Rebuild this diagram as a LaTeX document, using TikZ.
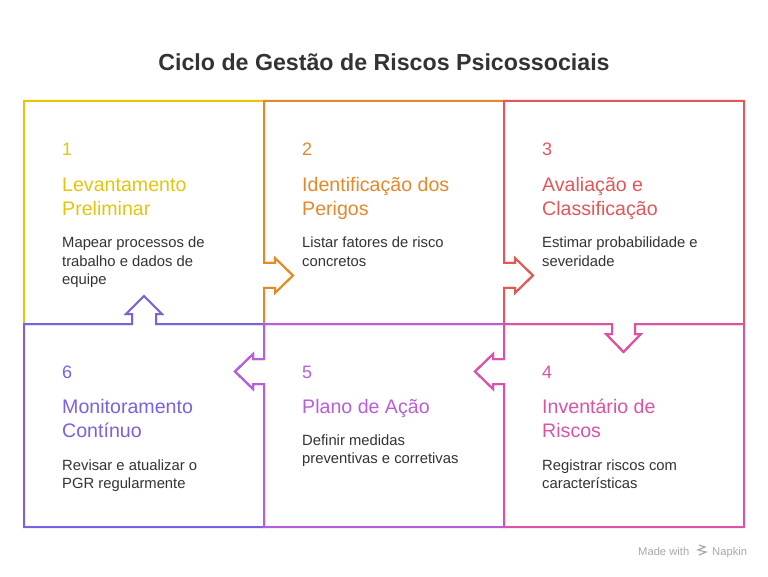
\documentclass[tikz,border=0pt]{standalone}
\usepackage{fontspec}
\setmainfont{Liberation Sans}
\definecolor{cyel}{HTML}{E3C60C}
\definecolor{cora}{HTML}{E4882C}
\definecolor{cred}{HTML}{E4565A}
\definecolor{cpink}{HTML}{DC52A4}
\definecolor{cpur}{HTML}{BA5CE0}
\definecolor{cvio}{HTML}{7B60E4}
\definecolor{ctxt}{HTML}{333333}
\definecolor{cgray}{HTML}{A8A8A8}
\begin{document}
\begin{tikzpicture}[x=1pt,y=-1pt,
  boxline/.style={line width=2pt,line join=miter},
  numtxt/.style={anchor=base west,inner sep=0pt,font=\fontsize{18}{18}\selectfont},
  headtxt/.style={anchor=base west,inner sep=0pt,font=\fontsize{19.6}{19.6}\selectfont},
  bodytxt/.style={anchor=base west,inner sep=0pt,text=ctxt,font=\fontsize{14.8}{14.8}\selectfont}]
\useasboundingbox (0,0) rectangle (768,577);
\fill[white] (0,0) rectangle (768,577);
% title
\node[anchor=base,inner sep=0pt,text=ctxt,font=\fontsize{23.2}{23.2}\selectfont\bfseries] (title) at (384,70.5) {Ciclo de Gestão de Riscos Psicossociais};
% boxes (drawing order 1,2,3,6,5,4)
\draw[boxline,cyel] (24,101) -- (264,101) -- (264,263) -- (275,263) -- (275,258) -- (293,275.5) -- (275,293) -- (275,288) -- (264,288) -- (264,324)
  -- (156,324) -- (156,314) -- (162,314) -- (144,296) -- (126,314) -- (132,314) -- (132,324) -- (24,324) -- cycle;
\draw[boxline,cora] (264,101) -- (504,101) -- (504,263) -- (515,263) -- (515,258) -- (533,275.5) -- (515,293) -- (515,288) -- (504,288) -- (504,324)
  -- (264,324) -- (264,288) -- (275,288) -- (275,293) -- (293,275.5) -- (275,258) -- (275,263) -- (264,263) -- cycle;
\draw[boxline,cred] (504,101) -- (744,101) -- (744,324) -- (635,324) -- (635,334) -- (641,334) -- (623.5,352) -- (606,334) -- (612,334) -- (612,324)
  -- (504,324) -- (504,288) -- (515,288) -- (515,293) -- (533,275.5) -- (515,258) -- (515,263) -- (504,263) -- cycle;
\draw[boxline,cvio] (24,324) -- (132,324) -- (132,314) -- (126,314) -- (144,296) -- (162,314) -- (156,314) -- (156,324) -- (264,324)
  -- (264,359) -- (253,359) -- (253,354) -- (235,371.5) -- (253,389) -- (253,384) -- (264,384) -- (264,527) -- (24,527) -- cycle;
\draw[boxline,cpur] (264,324) -- (504,324) -- (504,359) -- (493,359) -- (493,354) -- (475,371.5) -- (493,389) -- (493,384) -- (504,384) -- (504,527)
  -- (264,527) -- (264,384) -- (253,384) -- (253,389) -- (235,371.5) -- (253,354) -- (253,359) -- (264,359) -- cycle;
\draw[boxline,cpink] (504,324) -- (612,324) -- (612,334) -- (606,334) -- (623.5,352) -- (641,334) -- (635,334) -- (635,324) -- (744,324)
  -- (744,527) -- (504,527) -- (504,384) -- (493,384) -- (493,389) -- (475,371.5) -- (493,354) -- (493,359) -- (504,359) -- cycle;
% box 1
\node[numtxt,text=cyel] (n1) at (62,156) {1};
\node[headtxt,text=cyel] (h1a) at (62,191.5) {Levantamento};
\node[headtxt,text=cyel] (h1b) at (62,215.5) {Preliminar};
\node[bodytxt] (b1a) at (62,248) {Mapear processos de};
\node[bodytxt] (b1b) at (62,266) {trabalho e dados de};
\node[bodytxt] (b1c) at (62,284) {equipe};
% box 2
\node[numtxt,text=cora] (n2) at (302,156) {2};
\node[headtxt,text=cora] (h2a) at (302,191.5) {Identificação dos};
\node[headtxt,text=cora] (h2b) at (302,215.5) {Perigos};
\node[bodytxt] (b2a) at (302,248) {Listar fatores de risco};
\node[bodytxt] (b2b) at (302,266) {concretos};
% box 3
\node[numtxt,text=cred] (n3) at (542,156) {3};
\node[headtxt,text=cred] (h3a) at (542,191.5) {Avaliação e};
\node[headtxt,text=cred] (h3b) at (542,215.5) {Classificação};
\node[bodytxt] (b3a) at (542,248) {Estimar probabilidade e};
\node[bodytxt] (b3b) at (542,266) {severidade};
% box 4
\node[numtxt,text=cpink] (n4) at (542,378) {4};
\node[headtxt,text=cpink] (h4a) at (542,413.5) {Inventário de};
\node[headtxt,text=cpink] (h4b) at (542,437.5) {Riscos};
\node[bodytxt] (b4a) at (542,470) {Registrar riscos com};
\node[bodytxt] (b4b) at (542,488) {características};
% box 5
\node[numtxt,text=cpur] (n5) at (302,378) {5};
\node[headtxt,text=cpur] (h5a) at (302,413.5) {Plano de Ação};
\node[bodytxt] (b5a) at (302,445) {Definir medidas};
\node[bodytxt] (b5b) at (302,463) {preventivas e corretivas};
% box 6
\node[numtxt,text=cvio] (n6) at (62,378) {6};
\node[headtxt,text=cvio] (h6a) at (62,413.5) {Monitoramento};
\node[headtxt,text=cvio] (h6b) at (62,437.5) {Contínuo};
\node[bodytxt] (b6a) at (62,470) {Revisar e atualizar o};
\node[bodytxt] (b6b) at (62,488) {PGR regularmente};
% footer
\node[anchor=base west,inner sep=0pt,text=cgray,font=\fontsize{11.2}{11.2}\selectfont] (madew) at (638,555) {Made with};
\node[anchor=base west,inner sep=0pt,text=cgray,font=\fontsize{11.2}{11.2}\selectfont] (napk) at (712,555) {Napkin};
\draw[cgray,line width=1.2pt] (699,545) -- (705,547) -- (698,550) -- (706,552) -- (699,555);
\end{tikzpicture}
\end{document}
